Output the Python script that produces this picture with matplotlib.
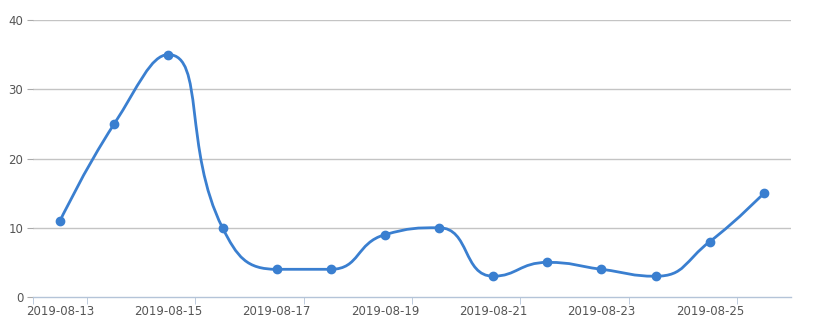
import matplotlib
matplotlib.use("Agg")
import matplotlib.pyplot as plt
import numpy as np
from matplotlib.path import Path
from matplotlib.patches import PathPatch

dates = ["2019-08-13", "2019-08-14", "2019-08-15", "2019-08-16", "2019-08-17",
         "2019-08-18", "2019-08-19", "2019-08-20", "2019-08-21", "2019-08-22",
         "2019-08-23", "2019-08-24", "2019-08-25", "2019-08-26"]
values = [11, 25, 35, 10, 4, 4, 9, 10, 3, 5, 4, 3, 8, 15]
y_ticks = [0, 10, 20, 30, 40]

W, H = 816, 334
fig = plt.figure(figsize=(W / 100, H / 100), dpi=100)
left, right, top, bottom = 33, 791, 20, 297
ax = fig.add_axes([left / W, 1 - bottom / H, (right - left) / W, (bottom - top) / H])

n = len(values)
x = np.arange(n)
ax.set_xlim(-0.5, n - 0.5)
ax.set_ylim(0, 40)

line_color = "#3a7fd0"

# echarts-5-like constrained smoothing in pixel space
pts = ax.transData.transform(np.column_stack([x, values]))
smooth = 0.5
verts = [pts[0]]
codes = [Path.MOVETO]
cp0 = pts[0].copy()
for i in range(1, n):
    px, py = pts[i - 1]
    cx, cy = pts[i]
    if i == n - 1:
        cp1 = np.array([cx, cy])
        ncp0 = None
    else:
        nx, ny = pts[i + 1]
        vx, vy = nx - px, ny - py
        lp = np.hypot(cx - px, cy - py)
        ln = np.hypot(nx - cx, ny - cy)
        r = ln / (ln + lp)
        ncx = cx + vx * smooth * r
        ncy = cy + vy * smooth * r
        ncx = max(min(ncx, max(nx, cx)), min(nx, cx))
        ncy = max(min(ncy, max(ny, cy)), min(ny, cy))
        vx, vy = ncx - cx, ncy - cy
        c1x = cx - vx * lp / ln
        c1y = cy - vy * lp / ln
        c1x = max(min(c1x, max(px, cx)), min(px, cx))
        c1y = max(min(c1y, max(py, cy)), min(py, cy))
        vx, vy = cx - c1x, cy - c1y
        ncp0 = np.array([cx + vx * ln / lp, cy + vy * ln / lp])
        cp1 = np.array([c1x, c1y])
    verts += [cp0, cp1, pts[i]]
    codes += [Path.CURVE4] * 3
    cp0 = ncp0
inv = ax.transData.inverted()
verts_data = inv.transform(np.array(verts))
patch = PathPatch(Path(verts_data, codes), facecolor="none", edgecolor=line_color,
                  lw=2, zorder=3, capstyle="round", joinstyle="round")
ax.add_patch(patch)
ax.plot(x, values, "o", color=line_color, ms=6, zorder=4)

for s in ["top", "right", "left"]:
    ax.spines[s].set_visible(False)
ax.spines["bottom"].set_color("#b4c4d8")
ax.spines["bottom"].set_linewidth(1)

ax.set_yticks(y_ticks)
ax.set_yticklabels([str(v) for v in y_ticks])
for yv in y_ticks[1:]:
    ax.axhline(yv, color="#c4c4c4", lw=1, zorder=1)
ax.tick_params(axis="y", length=4, color="#aaaaaa", labelsize=8.5, labelcolor="#555555", pad=3)

ax.set_xticks(x[::2])
ax.set_xticklabels(dates[::2])
ax.tick_params(axis="x", length=0, labelsize=8.5, labelcolor="#555555", pad=6)
minor = [-0.5] + [i + 0.5 for i in range(0, n - 1, 2)]
ax.set_xticks(minor, minor=True)
ax.tick_params(axis="x", which="minor", length=5, color="#b4c4d8")

fig.savefig("out.png", dpi=100)
